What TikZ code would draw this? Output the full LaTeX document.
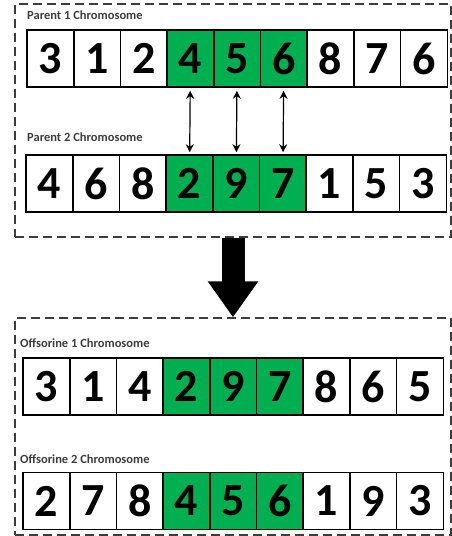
\documentclass[tikz,border=0pt]{standalone}
\usepackage{fontspec}
\setmainfont{Carlito}
\usetikzlibrary{arrows.meta}

\definecolor{cgreen}{RGB}{0,176,80}
\definecolor{frame}{RGB}{60,60,60}

\begin{document}
\begin{tikzpicture}[x=1pt, y=1pt,
            gene/.style={rectangle, draw, line width=1.6pt, minimum width=46.7pt, minimum height=57pt, inner sep=0pt, font=\fontsize{46}{46}\selectfont\bfseries},
            group/.style={rectangle, draw=frame, line width=1.3pt, dash pattern=on 9pt off 5pt},
            caption/.style={anchor=west, inner sep=0pt, text=frame, font=\fontsize{12.5}{12.5}\selectfont\bfseries},
            swap/.style={{Stealth[length=8pt,width=8pt]}-{Stealth[length=8pt,width=8pt]}, line width=1.2pt, shorten <=3pt, shorten >=2pt},
            pass/.style={line width=23pt, -{Triangle[width=48pt,length=36pt]}}
        ]
        \useasboundingbox (0,0) rectangle (451,536);

        % Rahmen: Eltern und Nachkommen
        \node[group, minimum width=436pt, minimum height=233pt] (parents) at (233,415.5) {};
        \node[group, minimum width=436pt, minimum height=217pt] (children) at (233,109.5) {};

        % Beschriftungen
        \node[caption] (p1-label) at (27,521) {Parent 1 Chromosome};
        \node[caption] (p2-label) at (27,399) {Parent 2 Chromosome};
        \node[caption] (o1-label) at (20,193) {Offsorine 1 Chromosome};
        \node[caption] (o2-label) at (20,77) {Offsorine 2 Chromosome};

        % Chromosomen (Gene 4 bis 6 markiert)
        \foreach \row/\xs/\ys/\genes in {p1/27/477.5/{3,1,2,4,5,6,8,7,6},
                                         p2/26/352.5/{4,6,8,2,9,7,1,5,3},
                                         o1/23/149.5/{3,1,4,2,9,7,8,6,5},
                                         o2/23/35/{2,7,8,4,5,6,1,9,3}} {
            \foreach \g [count=\i] in \genes {
                \ifnum\i>3 \ifnum\i<7 \def\fillc{cgreen}\else\def\fillc{white}\fi \else\def\fillc{white}\fi
                \node[gene, fill=\fillc] (\row-\i) at (\xs+\i*46.7-23.35,\ys) {\g};
            }
        }

        % Austausch
        \draw[swap] (p1-4) -- (p2-4);
        \draw[swap] (p1-5) -- (p2-5);
        \draw[swap] (p1-6) -- (p2-6);

        % Crossover
        \draw[pass] (parents.south) -- (children.north);

    \end{tikzpicture}
\end{document}
